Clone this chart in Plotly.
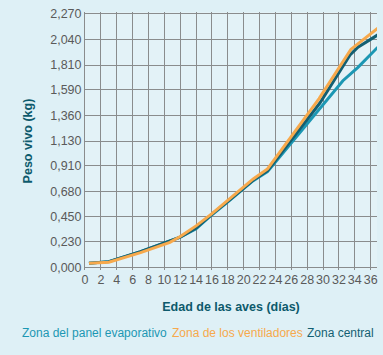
import plotly.graph_objects as go

# Data
dias_vent = [0.5, 3, 7, 10.7, 12, 14, 16, 18, 20, 21.2, 23, 29.5, 33.5, 35.5, 36.9]
peso_vent = [0.035, 0.045, 0.13, 0.222, 0.275, 0.37, 0.48, 0.60, 0.72, 0.79, 0.88, 1.51, 1.95, 2.06, 2.14]

dias_central = [0.5, 3, 7, 10.7, 12, 14, 16, 18, 20, 21.2, 23, 29.6, 33.4, 34.4, 36.9]
peso_central = [0.035, 0.05, 0.14, 0.235, 0.27, 0.35, 0.475, 0.59, 0.71, 0.78, 0.865, 1.47, 1.90, 1.97, 2.08]

dias_panel = [0.5, 3, 7, 10.7, 12, 14, 16, 18, 20, 21.2, 23, 30, 32.5, 34.4, 36.9]
peso_panel = [0.035, 0.05, 0.14, 0.232, 0.27, 0.345, 0.47, 0.585, 0.705, 0.775, 0.855, 1.455, 1.67, 1.79, 1.97]

y_ticks = [0, 0.23, 0.45, 0.68, 0.91, 1.13, 1.36, 1.59, 1.81, 2.04, 2.27]
y_labels = ["0,000", "0,230", "0,450", "0,680", "0,910", "1,130", "1,360", "1,590", "1,810", "2,040", "2,270"]
x_ticks = list(range(0, 37, 2))

series_names = ["Zona del panel evaporativo", "Zona de los ventiladores", "Zona central"]
c_panel = "#1c97b3"
c_vent = "#f7a94c"
c_central = "#135f72"

FONT = "Liberation Sans, Arial, sans-serif"

fig = go.Figure()
fig.add_trace(go.Scatter(x=dias_panel, y=peso_panel, mode="lines", name=series_names[0],
                         line=dict(color=c_panel, width=3)))
fig.add_trace(go.Scatter(x=dias_central, y=peso_central, mode="lines", name=series_names[2],
                         line=dict(color=c_central, width=3)))
fig.add_trace(go.Scatter(x=dias_vent, y=peso_vent, mode="lines", name=series_names[1],
                         line=dict(color=c_vent, width=3)))

fig.update_layout(
    width=383, height=355,
    margin=dict(l=85, r=6, t=12, b=85),
    paper_bgcolor="#def0f6",
    plot_bgcolor="#e3f2f7",
    showlegend=False,
    font=dict(family=FONT, color="#5a5a5a", size=12),
    xaxis=dict(range=[0, 36.8], tickvals=x_ticks, ticktext=[str(v) for v in x_ticks],
               showgrid=True, gridcolor="#8a8c8d", gridwidth=1, zeroline=False,
               showline=False, ticks="", tickangle=0, tickfont=dict(size=12.5, color="#5a5a5a"),
               title=dict(text="<b>Edad de las aves (días)</b>", font=dict(size=12.5, color="#0d5a6c"),
                          standoff=16)),
    yaxis=dict(range=[-0.025, 2.285], tickvals=y_ticks, ticktext=y_labels,
               showgrid=True, gridcolor="#8a8c8d", gridwidth=1, zeroline=False,
               showline=True, linecolor="#8a8c8d", ticks="", tickfont=dict(size=12.5, color="#5a5a5a"),
               title=dict(text="<b>Peso vivo (kg)</b>", font=dict(size=12.5, color="#0d5a6c"),
                          standoff=14)),
)

legend_items = [(series_names[0], c_panel, 94), (series_names[1], c_vent, 237), (series_names[2], c_central, 340)]
pw = 383 - 85 - 6
ph = 355 - 12 - 85
for txt, col, xc in legend_items:
    fig.add_annotation(x=(xc - 85) / pw, y=((355 - 333) - 85) / ph, xref="paper", yref="paper",
                       text=txt, showarrow=False,
                       font=dict(size=12, color=col, family=FONT), xanchor="center", yanchor="middle")

fig.write_html("out.html", config={"displayModeBar": False},
               post_script="document.body.style.margin='0';document.body.style.background='#def0f6';")
